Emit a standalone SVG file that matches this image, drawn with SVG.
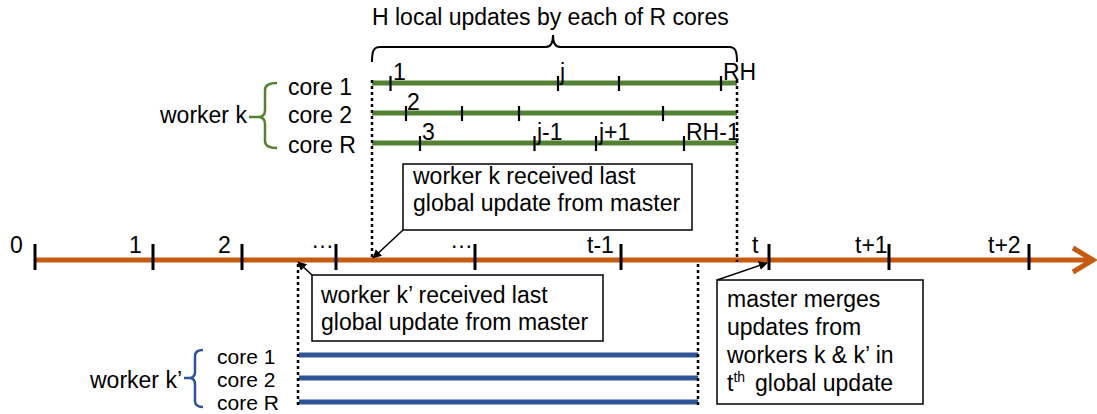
<svg xmlns="http://www.w3.org/2000/svg" width="1097" height="414" viewBox="0 0 1097 414">
  <defs>
    <marker id="head" viewBox="0 0 10 10" refX="9" refY="5" markerWidth="9" markerHeight="9" markerUnits="userSpaceOnUse" orient="auto">
      <path d="M0,0 L10,5 L0,10 z" fill="#000"/>
    </marker>
    <style>
      text { font-family: "Liberation Sans", Arial, sans-serif; font-size: 23px; fill: #000; }
      .small { font-size: 21px; }
      .axis { stroke: #C55A11; stroke-width: 5; fill: none; }
      .green { stroke: #548235; stroke-width: 5; fill: none; }
      .blue { stroke: #2F5597; stroke-width: 5; fill: none; }
      .tick { stroke: #000; stroke-width: 3; }
      .mini { stroke: #000; stroke-width: 2.2; }
      .dots { stroke: #000; stroke-width: 2.5; stroke-dasharray: 3 3; fill: none; }
      .brace-k { stroke: #548235; stroke-width: 2.5; fill: none; }
      .brace-kp { stroke: #2F5597; stroke-width: 2.5; fill: none; }
      .brace-h { stroke: #000; stroke-width: 2; fill: none; }
      .box { fill: #fff; stroke: #000; stroke-width: 1.5; }
      .ptr { stroke: #000; stroke-width: 1.5; fill: none; marker-end: url(#head); }
    </style>
  </defs>

  <!-- global timeline -->
  <g id="timeline">
    <line class="axis" x1="35" y1="260" x2="1091" y2="260"/>
    <polyline class="axis" points="1073,248 1093,260 1073,272"/>
    <line class="tick" x1="35" y1="244" x2="35" y2="270"/>
    <line class="tick" x1="153" y1="244" x2="153" y2="270"/>
    <line class="tick" x1="242" y1="244" x2="242" y2="270"/>
    <line class="tick" x1="336" y1="244" x2="336" y2="270"/>
    <line class="tick" x1="475" y1="244" x2="475" y2="270"/>
    <line class="tick" x1="621" y1="244" x2="621" y2="270"/>
    <line class="tick" x1="769" y1="244" x2="769" y2="270"/>
    <line class="tick" x1="889" y1="244" x2="889" y2="270"/>
    <line class="tick" x1="1029" y1="244" x2="1029" y2="270"/>
    <text x="10" y="253">0</text>
    <text x="129" y="253">1</text>
    <text x="218" y="253">2</text>
    <text x="311" y="248">…</text>
    <text x="450" y="248">…</text>
    <text x="587" y="253">t-1</text>
    <text x="752" y="253">t</text>
    <text x="855" y="253">t+1</text>
    <text x="988" y="253">t+2</text>
  </g>

  <!-- worker k: R cores doing H local updates each -->
  <g id="worker-k">
    <text x="160" y="123">worker k</text>
    <path class="brace-k" d="M277,83 Q265,83 265,90 V110 Q265,117 258,117 Q265,117 265,124 V141 Q265,148 277,148 M249,117 H258"/>
    <text x="288" y="95">core 1</text>
    <text x="288" y="123">core 2</text>
    <text x="288" y="153">core R</text>
    <line class="green" x1="372" y1="83" x2="737" y2="83"/>
    <line class="green" x1="372" y1="113" x2="737" y2="113"/>
    <line class="green" x1="372" y1="143" x2="737" y2="143"/>
    <g class="mini">
      <line x1="390.5" y1="76" x2="390.5" y2="91"/>
      <line x1="558" y1="76" x2="558" y2="91"/>
      <line x1="619" y1="76" x2="619" y2="91"/>
      <line x1="721" y1="76" x2="721" y2="91"/>
      <line x1="406" y1="106" x2="406" y2="121"/>
      <line x1="462" y1="106" x2="462" y2="121"/>
      <line x1="519" y1="106" x2="519" y2="121"/>
      <line x1="663" y1="106" x2="663" y2="121"/>
      <line x1="420" y1="136" x2="420" y2="151"/>
      <line x1="534.5" y1="136" x2="534.5" y2="151"/>
      <line x1="596" y1="136" x2="596" y2="151"/>
      <line x1="684" y1="136" x2="684" y2="151"/>
    </g>
    <text x="393" y="80">1</text>
    <text x="560" y="80">j</text>
    <text x="723" y="80">RH</text>
    <text x="407" y="110">2</text>
    <text x="422" y="140">3</text>
    <text x="537" y="140">j-1</text>
    <text x="599" y="140">j+1</text>
    <text x="686" y="140">RH-1</text>
  </g>

  <!-- span of the local updates -->
  <g id="h-updates">
    <path class="brace-h" d="M372,62 C372,50 374,47 380,47 L546,47 Q553,47 553,35 Q553,47 560,47 L729,47 C735,47 737,50 737,62"/>
    <text x="372" y="25">H local updates by each of R cores</text>
  </g>

  <!-- worker k' -->
  <g id="worker-k-prime">
    <text x="182" y="388" text-anchor="end">worker k’</text>
    <path class="brace-kp" d="M203,350 Q195,350 195,356 V372 Q195,378 189,378 Q195,378 195,384 V401 Q195,407 203,407 M184,378 H189"/>
    <text class="small" x="217" y="364">core 1</text>
    <text class="small" x="217" y="387">core 2</text>
    <text class="small" x="217" y="410">core R</text>
    <line class="blue" x1="299" y1="355" x2="698" y2="355"/>
    <line class="blue" x1="299" y1="378" x2="698" y2="378"/>
    <line class="blue" x1="299" y1="402" x2="698" y2="402"/>
  </g>

  <!-- callouts -->
  <g id="note-k">
    <rect class="box" x="403" y="164" width="289" height="66"/>
    <text x="413" y="184">worker k received last</text>
    <text x="413" y="211">global update from master</text>
  </g>
  <g id="note-k-prime">
    <rect class="box" x="312" y="275" width="291" height="66"/>
    <text x="321" y="303">worker k’ received last</text>
    <text x="321" y="330">global update from master</text>
  </g>
  <g id="note-master">
    <rect class="box" x="717" y="280" width="206" height="124"/>
    <text x="727" y="307">master merges</text>
    <text x="727" y="335">updates from</text>
    <text x="727" y="363">workers k &amp; k’ in</text>
    <text x="727" y="391">t<tspan font-size="14" dy="-9">th</tspan><tspan x="755" dy="9">global update</tspan></text>
  </g>

  <!-- connectors: time-window boundaries and callout pointers -->
  <g id="connectors">
    <line class="dots" x1="372" y1="80" x2="372" y2="258"/>
    <line class="dots" x1="737" y1="80" x2="737" y2="262"/>
    <line class="dots" x1="298" y1="264" x2="298" y2="405"/>
    <line class="dots" x1="698" y1="264" x2="698" y2="405"/>
    <line class="ptr" x1="403" y1="230" x2="373" y2="258"/>
    <line class="ptr" x1="312" y1="275" x2="298" y2="262"/>
    <line class="ptr" x1="717" y1="280" x2="767" y2="263"/>
  </g>
</svg>
